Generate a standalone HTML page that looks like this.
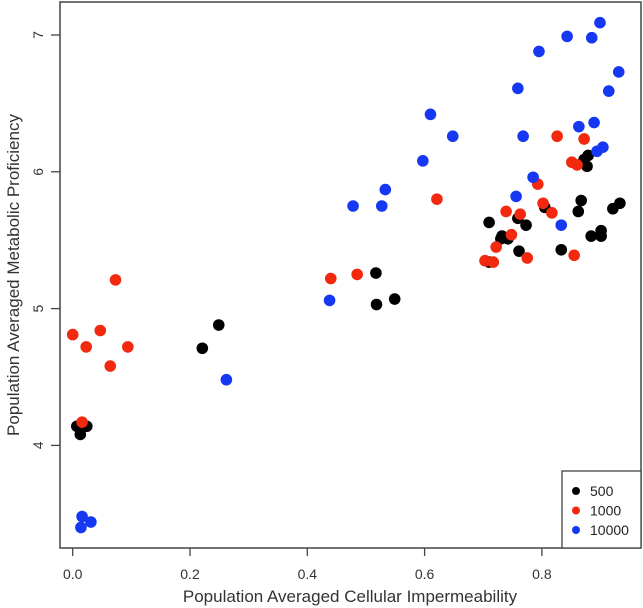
<!DOCTYPE html>
<html><head><meta charset="utf-8">
<style>
html,body{margin:0;padding:0;background:#fff;}
svg{display:block;font-family:"Liberation Sans",sans-serif;}
</style></head>
<body>
<svg id="chart" width="643" height="608" viewBox="0 0 643 608"></svg>
<script>
const xTicks = [0.0, 0.2, 0.4, 0.6, 0.8];
const xTickLabels = ["0.0", "0.2", "0.4", "0.6", "0.8"];
const yTicks = [4, 5, 6, 7];
const yTickLabels = ["4", "5", "6", "7"];
const seriesNames = ["500", "1000", "10000"];
const seriesColors = ["#000000", "#f2290f", "#1638f2"];
const blackX = [0.007,0.024,0.013,0.249,0.221,0.517,0.549,0.518,0.879,0.872,0.877,0.805,0.867,0.862,0.921,0.933,0.759,0.773,0.710,0.732,0.742,0.730,0.761,0.833,0.884,0.901,0.901,0.710];
const blackY = [4.14,4.14,4.08,4.88,4.71,5.26,5.07,5.03,6.12,6.09,6.04,5.74,5.79,5.71,5.73,5.77,5.66,5.61,5.63,5.53,5.51,5.51,5.42,5.43,5.53,5.57,5.53,5.34];
const redX = [0.016,0.073,0.0,0.047,0.023,0.094,0.064,0.440,0.485,0.621,0.826,0.872,0.851,0.860,0.793,0.802,0.817,0.739,0.763,0.748,0.722,0.775,0.855,0.703,0.717];
const redY = [4.17,5.21,4.81,4.84,4.72,4.72,4.58,5.22,5.25,5.80,6.26,6.24,6.07,6.05,5.91,5.77,5.70,5.71,5.69,5.54,5.45,5.37,5.39,5.35,5.34];
const blueX = [0.016,0.031,0.014,0.262,0.438,0.478,0.527,0.533,0.597,0.610,0.648,0.899,0.843,0.885,0.795,0.931,0.759,0.914,0.863,0.889,0.768,0.904,0.894,0.785,0.756,0.833];
const blueY = [3.48,3.44,3.40,4.48,5.06,5.75,5.75,5.87,6.08,6.42,6.26,7.09,6.99,6.98,6.88,6.73,6.61,6.59,6.33,6.36,6.26,6.18,6.15,5.96,5.82,5.61];

const NS = "http://www.w3.org/2000/svg";
const svg = document.getElementById("chart");
const L = 60, R = 641, T = 2, B = 548;
function sx(v){ return 72.7 + v * 586.5; }
function sy(v){ return 35 + (7 - v) * 136.8; }
function mk(tag, attrs, parent){
  const e = document.createElementNS(NS, tag);
  for (const k in attrs) e.setAttribute(k, attrs[k]);
  (parent || svg).appendChild(e);
  return e;
}
const frame = mk("rect", {x:L, y:T, width:R-L, height:B-T, fill:"none", stroke:"#444", "stroke-width":1.5});



xTicks.forEach((t,i)=>{
  const g = mk("g", {});
  
  
  mk("line", {x1:sx(t), x2:sx(t), y1:B, y2:B+8, stroke:"#444", "stroke-width":1.3}, g);
  const tx = mk("text", {x:sx(t), y:B+31, "text-anchor":"middle", "font-size":14, fill:"#333"}, g);
  tx.textContent = xTickLabels[i];
});
yTicks.forEach((t,i)=>{
  const g = mk("g", {});
  
  
  mk("line", {x1:L-9, x2:L, y1:sy(t), y2:sy(t), stroke:"#444", "stroke-width":1.3}, g);
  const tx = mk("text", {x:0, y:0, "text-anchor":"middle", "font-size":14, fill:"#333",
    transform:"translate(43," + sy(t) + ") rotate(-90)"}, g);
  tx.textContent = yTickLabels[i];
});
const xt = mk("text", {x:350, y:602, "text-anchor":"middle", "font-size":17, fill:"#333"});


xt.textContent = "Population Averaged Cellular Impermeability";
const yt = mk("text", {x:0, y:0, "text-anchor":"middle", "font-size":17, fill:"#333", transform:"translate(19,275) rotate(-90)"});


yt.textContent = "Population Averaged Metabolic Proficiency";

const allX = [blackX, redX, blueX];
const allY = [blackY, redY, blueY];
[0,1,2].forEach(s=>{
  const g = mk("g", {});
  
  
  allX[s].forEach((xv,i)=>{
    const c = mk("circle", {cx:sx(xv), cy:sy(allY[s][i]), r:5.8, fill:seriesColors[s]}, g);
    
    
  });
});

const lg = mk("g", {});


mk("rect", {x:562, y:471, width:79, height:77, fill:"#fff", stroke:"#444", "stroke-width":1.3}, lg);
seriesNames.forEach((n,i)=>{
  const e = mk("g", {}, lg);
  
  
  const y = 491 + i*19.5;
  mk("circle", {cx:576, cy:y, r:4, fill:seriesColors[i]}, e);
  const t = mk("text", {x:590, y:y+5, "font-size":14, fill:"#222"}, e);
  t.textContent = n;
});
</script>
</body></html>
